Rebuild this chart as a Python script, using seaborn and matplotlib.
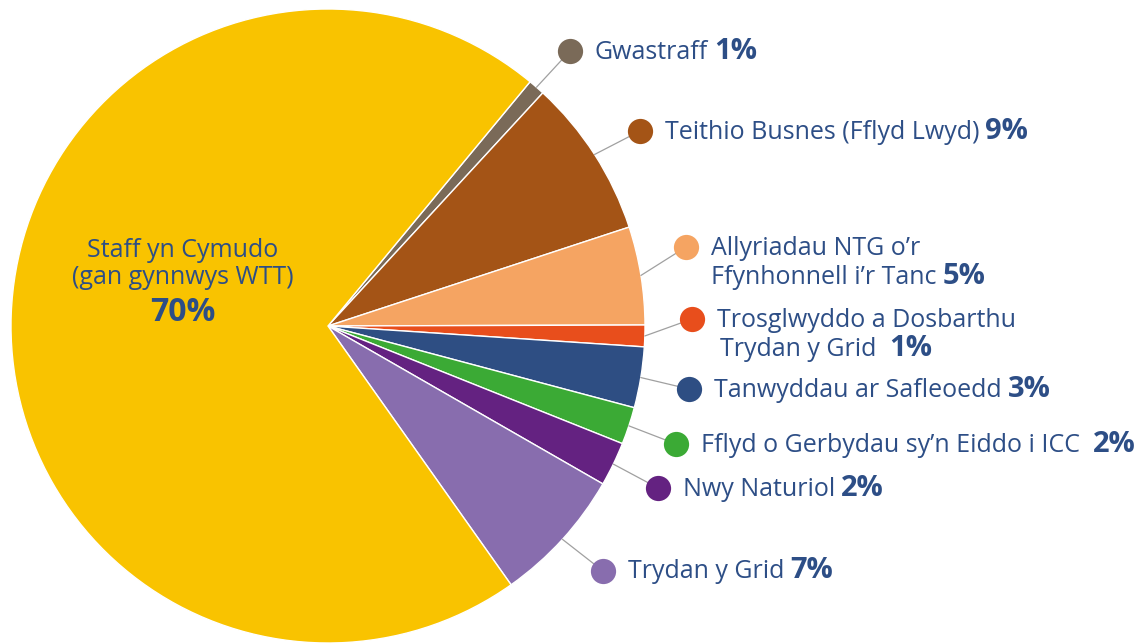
import numpy as np
import seaborn as sns
import matplotlib.pyplot as plt

sns.set_theme(style="white")
plt.rcParams['font.family'] = ['Open Sans', 'DejaVu Sans']

# categorïau (clockwise from the top, as in the picture)
categories = ["Gwastraff", "Teithio Busnes (Fflyd Lwyd)", "Allyriadau NTG o’r\nFfynhonnell i’r Tanc",
              "Trosglwyddo a Dosbarthu\nTrydan y Grid ", "Tanwyddau ar Safleoedd",
              "Fflyd o Gerbydau sy’n Eiddo i ICC ", "Nwy Naturiol", "Trydan y Grid",
              "Staff yn Cymudo\n(gan gynnwys WTT)"]
# slice sizes
shares = [0.85, 8.1, 5.0, 1.1, 3.1, 1.9, 2.25, 6.9, 70.8]
pct_labels = ["1%", "9%", "5%", "1%", "3%", "2%", "2%", "7%", "70%"]
colors = ["#7a6a58", "#a45416", "#f5a462", "#e84e1c", "#2e4e83",
          "#3baa35", "#642281", "#886dae", "#f9c300"]

text_col = "#2d4e86"
cx, cy, R = 328, 326, 317

# marker positions for the call-outs (pixels, image coords)
marker_xy = [(570, 51), (640, 131), (686, 247), (692, 319), (689, 389),
             (676, 444), (658, 488), (603, 571)]
# small extra indent on second lines
indent2 = [0, 0, 0, 3, 0, 0, 0, 0]

fig = plt.figure(figsize=(11.36, 6.44), dpi=100)
ax = fig.add_axes([0, 0, 1, 1])

wedges, _ = ax.pie(shares, colors=colors, center=(cx, cy), radius=R,
                   startangle=-50.4, counterclock=True,
                   wedgeprops=dict(edgecolor="white", linewidth=1))
ax.set_xlim(0, 1136)
ax.set_ylim(644, 0)
ax.set_aspect('equal')
ax.axis('off')

fig.canvas.draw()
renderer = fig.canvas.get_renderer()

for i, (mx, my) in enumerate(marker_xy):
    w = wedges[i]
    mid = np.deg2rad((w.theta1 + w.theta2) / 2)
    ex, ey = cx + R * np.cos(mid), cy + R * np.sin(mid)
    ax.plot([ex, mx], [ey, my], color="#a0a0a0", lw=0.9, zorder=3)
    ax.scatter([mx], [my], s=330, color=colors[i], zorder=4, linewidths=0)

    lines = categories[i].split("\n")
    nl = len(lines)
    top = my + 1
    last = None
    for j, ln in enumerate(lines):
        last = ax.text(mx + 25 + (indent2[i] if j else 0), top + 29 * j, ln,
                       fontsize=18, color=text_col, va="center", ha="left")
    bb = last.get_window_extent(renderer)
    x_end = ax.transData.inverted().transform((bb.x1, bb.y0))[0]
    ax.text(x_end + 6, top + 29 * (nl - 1) - 1, pct_labels[i], fontsize=21,
            fontweight="bold", color=text_col, va="center", ha="left")

# main slice label inside the yellow wedge
ax.text(183, 264, categories[8], fontsize=18, color=text_col, ha="center",
        va="center", linespacing=1.1)
ax.text(183, 312, pct_labels[8], fontsize=23, fontweight="bold", color=text_col,
        ha="center", va="center")

fig.savefig("out.png", dpi=100)
